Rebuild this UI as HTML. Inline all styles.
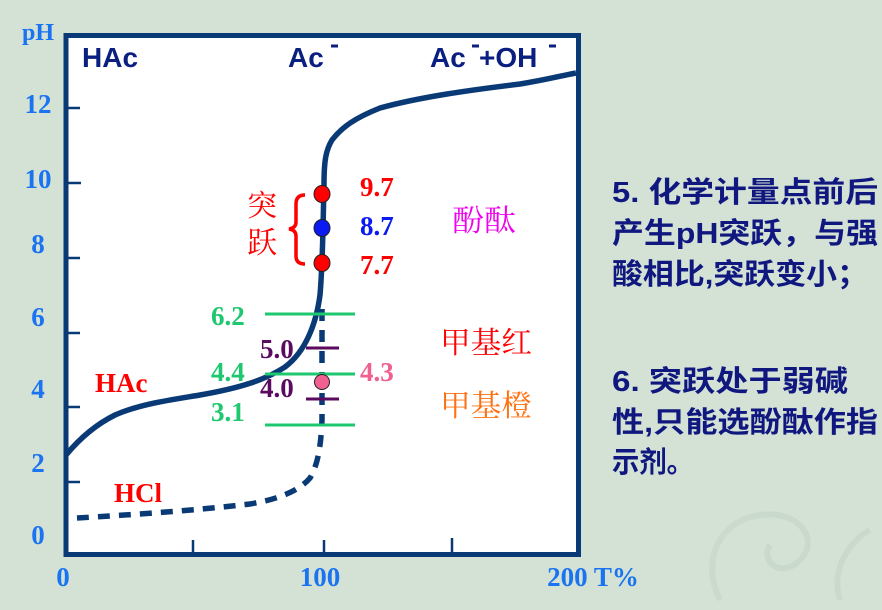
<!DOCTYPE html>
<html><head><meta charset="utf-8"><style>
html,body{margin:0;padding:0;}
body{width:882px;height:610px;background:#d3e2d4;overflow:hidden;}
svg{display:block}
.s{font-family:"Liberation Serif","Noto Serif CJK SC",serif;font-weight:bold;}
.a{font-family:"Liberation Sans","Noto Sans CJK SC",sans-serif;font-weight:bold;}
.c{font-family:"Noto Serif CJK SC","Noto Sans CJK SC",serif;}
</style></head><body>
<svg width="882" height="610" viewBox="0 0 882 610" xmlns="http://www.w3.org/2000/svg">
<rect width="882" height="610" fill="#d3e2d4"/>
<g opacity="0.35" fill="none" stroke="#b9ccba" stroke-width="6">
<path d="M720 600 C700 560 720 520 760 515 C800 510 820 540 800 560 C780 580 760 560 770 545"/>
<path d="M840 600 C830 570 850 540 870 530"/>
</g>
<rect x="66" y="35.5" width="512.5" height="519" fill="#fff" stroke="#0a3a75" stroke-width="5"/>
<g stroke="#0a3a75" stroke-width="2.5">
<line x1="66" y1="108" x2="80" y2="108"/><line x1="66" y1="183" x2="81" y2="183"/>
<line x1="66" y1="258" x2="80" y2="258"/><line x1="66" y1="333" x2="80" y2="333"/>
<line x1="66" y1="407" x2="80" y2="407"/><line x1="66" y1="482" x2="80" y2="482"/>
<line x1="193" y1="540" x2="193" y2="554"/><line x1="324" y1="540" x2="324" y2="554"/><line x1="452" y1="538" x2="452" y2="554"/>
</g>
<g class="s" fill="#1a73f0" font-size="27" text-anchor="middle">
<text x="38" y="40" font-size="24">pH</text>
<text x="38" y="113">12</text><text x="38" y="188">10</text><text x="38" y="253">8</text>
<text x="38" y="326">6</text><text x="38" y="398">4</text><text x="38" y="472">2</text><text x="38" y="544">0</text>
<text x="63" y="586">0</text><text x="320" y="586">100</text><text x="593" y="586">200 T%</text>
</g>
<g class="a" fill="#0a1f80" font-size="28">
<text x="82" y="67">HAc</text><text x="288" y="67">Ac</text><text x="430" y="67">Ac</text><text x="479" y="67">+OH</text>
</g>
<g stroke="#0a1f80" stroke-width="3"><line x1="331" y1="46" x2="338" y2="46"/><line x1="472" y1="46" x2="479" y2="46"/><line x1="549" y1="46" x2="556" y2="46"/></g>
<path d="M66 455 C80 438 95 425 115 415 C140 404 170 400 200 395 C240 388 265 380 285 367 C305 352 316 325 320 295 C323 260 323 220 324 185 C324 160 326 150 332 140 C342 127 355 118 380 108 C420 97 470 90 520 84 C545 80 560 76 576 73" fill="none" stroke="#0a3a75" stroke-width="5.5" stroke-linejoin="round"/>
<path d="M77 518 C130 515 200 510 250 504 C280 499 300 490 310 478 C318 465 321 445 322 420 L322 300" fill="none" stroke="#0a3a75" stroke-width="5.5" stroke-dasharray="12 9"/>
<g stroke="#1ec86e" stroke-width="3"><line x1="265" y1="314" x2="355" y2="314"/><line x1="265" y1="374" x2="355" y2="374"/><line x1="265" y1="425" x2="355" y2="425"/></g>
<g stroke="#5a0a5f" stroke-width="3"><line x1="306" y1="348" x2="339" y2="348"/><line x1="306" y1="399" x2="339" y2="399"/></g>
<ellipse cx="322" cy="382" rx="7.5" ry="7.5" fill="#f06090" stroke="#222" stroke-width="1"/>
<ellipse cx="322" cy="194" rx="8" ry="8.5" fill="#f00" stroke="#222" stroke-width="1"/>
<ellipse cx="322" cy="228" rx="8" ry="8.5" fill="#0a1af0" stroke="#222" stroke-width="1"/>
<ellipse cx="322" cy="263" rx="8" ry="8.5" fill="#f00" stroke="#222" stroke-width="1"/>
<path d="M305 195 Q296 195 296 204 L296 222 Q296 228 289 229 Q296 230 296 236 L296 256 Q296 264 305 264" fill="none" stroke="#f00" stroke-width="3.5"/>
<g class="s" font-size="27">
<text x="360" y="196" fill="#f00">9.7</text><text x="360" y="235" fill="#0a1af0">8.7</text><text x="360" y="274" fill="#f00">7.7</text>
<text x="211" y="325" fill="#1ec86e">6.2</text><text x="260" y="358" fill="#5a0a5f">5.0</text>
<text x="211" y="381" fill="#1ec86e">4.4</text><text x="260" y="397" fill="#5a0a5f">4.0</text>
<text x="211" y="421" fill="#1ec86e">3.1</text><text x="360" y="381" fill="#f06090">4.3</text>
<text x="95" y="392" fill="#f00">HAc</text><text x="114" y="502" fill="#f00">HCl</text>
</g>
<g class="c" font-size="30">
<text x="247" y="216" fill="#f00">突</text><text x="247" y="253" fill="#f00">跃</text>
<text x="452" y="231" fill="#f000f0" textLength="64" lengthAdjust="spacingAndGlyphs">酚酞</text>
<text x="440" y="353" fill="#f00" textLength="92" lengthAdjust="spacingAndGlyphs">甲基红</text>
<text x="440" y="416" fill="#ff7010" textLength="92" lengthAdjust="spacingAndGlyphs">甲基橙</text>
</g>
<g class="a" fill="#101880" font-size="29">
<text x="612" y="202" textLength="266" lengthAdjust="spacingAndGlyphs">5.  化学计量点前后</text>
<text x="612" y="243" textLength="266" lengthAdjust="spacingAndGlyphs">产生pH突跃，与强</text>
<text x="612" y="284" textLength="256" lengthAdjust="spacingAndGlyphs">酸相比,突跃变小；</text>
<text x="612" y="391" textLength="236" lengthAdjust="spacingAndGlyphs">6.  突跃处于弱碱</text>
<text x="612" y="432" textLength="266" lengthAdjust="spacingAndGlyphs">性,只能选酚酞作指</text>
<text x="612" y="472" textLength="82" lengthAdjust="spacingAndGlyphs">示剂。</text>
</g>
</svg>
</body></html>
